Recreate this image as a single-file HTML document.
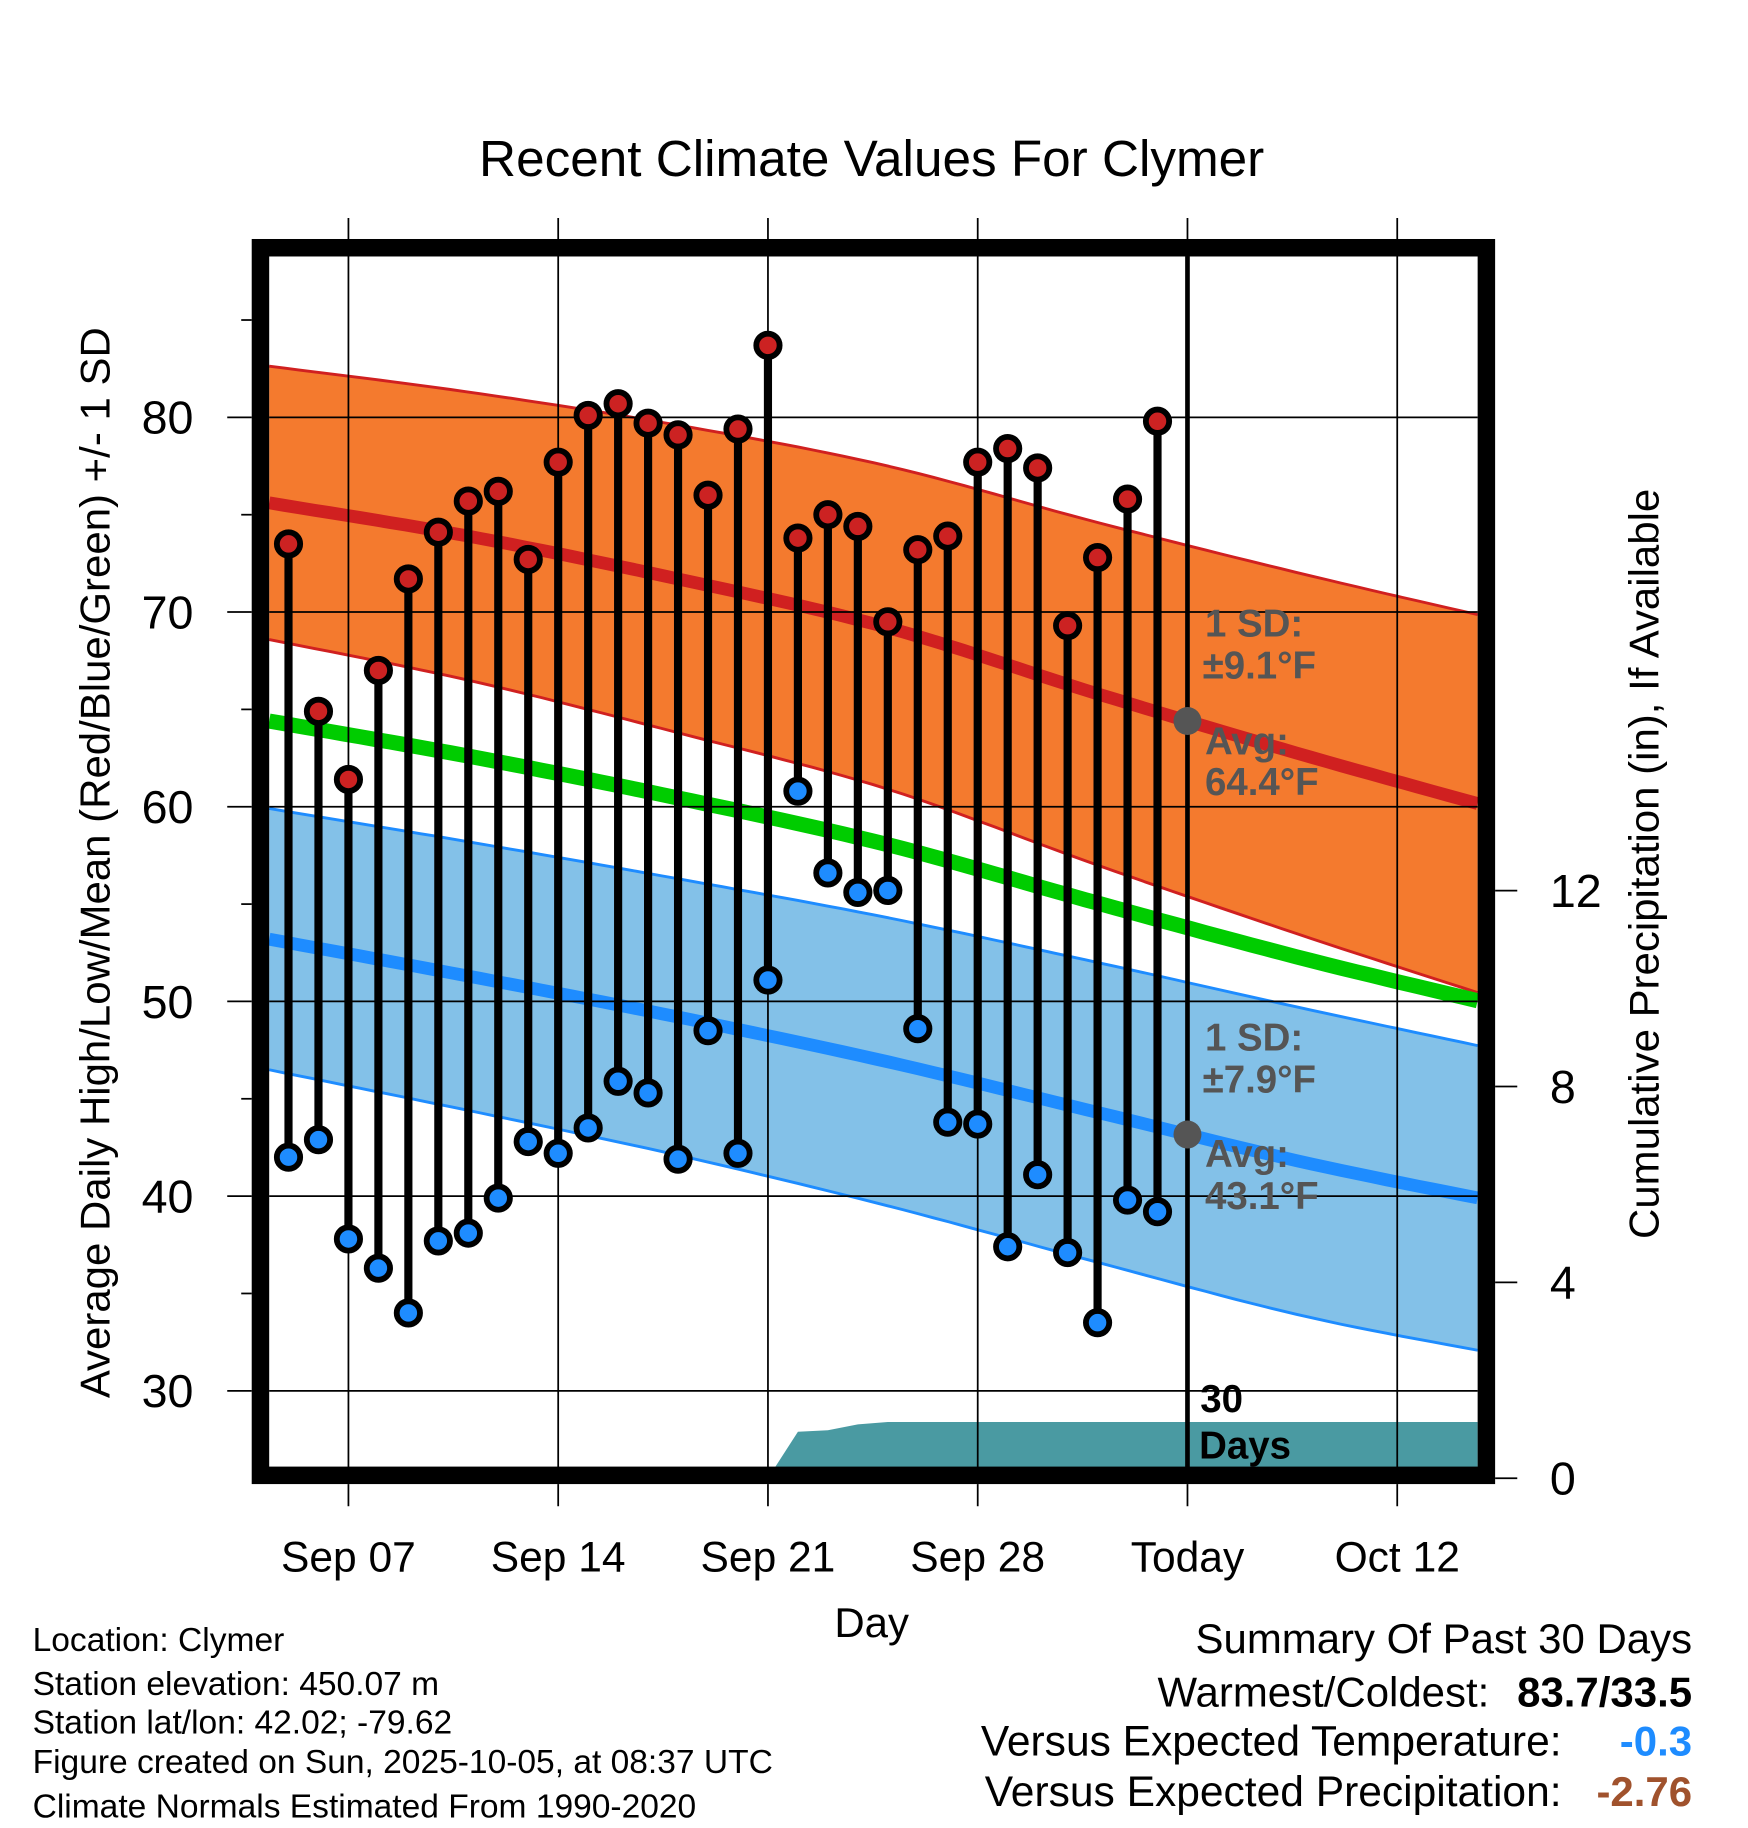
<!DOCTYPE html>
<html><head><meta charset="utf-8"><style>
html,body{margin:0;padding:0;background:#fff}
svg{display:block;font-family:"Liberation Sans",Arial,sans-serif}
</style></head><body>
<svg id="chart" width="1748" height="1828" viewBox="0 0 1500 1568" preserveAspectRatio="none" xmlns="http://www.w3.org/2000/svg">
<g id="layer"></g>
</svg>
<script>
const highs=[73.5,64.9,61.4,67.0,71.7,74.1,75.7,76.2,72.7,77.7,80.1,80.7,79.7,79.1,76.0,79.4,83.7,73.8,75.0,74.4,69.5,73.2,73.9,77.7,78.4,77.4,69.3,72.8,75.8,79.8];
const lows=[42.0,42.9,37.8,36.3,34.0,37.7,38.1,39.9,42.8,42.2,43.5,45.9,45.3,41.9,48.5,42.2,51.1,60.8,56.6,55.6,55.7,48.6,43.8,43.7,37.4,41.1,37.1,33.5,39.8,39.2];
const normDays=[-3,4,11,18,25,32,39];
const normHigh=[75.7,73.9,71.7,69.2,65.8,62.6,59.6];
const sdHigh=[7.0,7.4,7.9,8.3,8.8,9.3,9.8];
const normLow=[53.3,51.3,49.2,46.9,44.3,41.7,39.5];
const sdLow=[6.7,6.9,7.1,7.4,7.7,7.9,7.8];
const precipDays=[14,15,16,17,18,19,38];
const precipVals=[0,0.95,0.98,1.1,1.15,1.15,1.15];
const yTicks=[30,40,50,60,70,80];
const pTicks=[0,4,8,12];
const xTickDays=[0,7,14,21,28,35];
const xTickLabels=["Sep 07","Sep 14","Sep 21","Sep 28","Today","Oct 12"];

const L=231,R=1268,T=220,B=1260,todayD=28;
const X=d=>299+d*180/7;
const Y=v=>358+(80-v)*16.7;
const P=p=>1268-p*42;
const svg=document.getElementById('layer');
const NS='http://www.w3.org/2000/svg';
function mk(tag,attrs,parent){const e=document.createElementNS(NS,tag);for(const k in attrs)e.setAttribute(k,attrs[k]);(parent||svg).appendChild(e);return e;}
function interp(xs,ys,x){const n=xs.length;let i=0;while(i<n-2&&x>xs[i+1])i++;
const t=(x-xs[i])/(xs[i+1]-xs[i]);const p0=i>0?ys[i-1]:2*ys[i]-ys[i+1];const p1=ys[i],p2=ys[i+1];const p3=i+2<n?ys[i+2]:2*ys[i+1]-ys[i];
const t2=t*t,t3=t2*t;return 0.5*((2*p1)+(-p0+p2)*t+(2*p0-5*p1+4*p2-p3)*t2+(-p0+3*p1-3*p2+p3)*t3);}
const d0=(L-299)*7/180,d1=(R-299)*7/180;
const samples=[];for(let i=0;i<=80;i++)samples.push(d0+(d1-d0)*i/80);
function line(fn){return samples.map(d=>X(d).toFixed(1)+','+Y(fn(d)).toFixed(1));}
function band(fu,fl){return line(fu).concat(line(fl).reverse()).join(' ');}
const mh=d=>interp(normDays,normHigh,d),sh=d=>interp(normDays,sdHigh,d);
const ml=d=>interp(normDays,normLow,d),sl=d=>interp(normDays,sdLow,d);

let e;
e=mk('polygon',{points:band(d=>mh(d)+sh(d),d=>mh(d)-sh(d)),fill:'#f47a2e'});

e=mk('polyline',{points:line(d=>mh(d)+sh(d)).join(' '),fill:'none',stroke:'#d02020','stroke-width':2.5});

e=mk('polyline',{points:line(d=>mh(d)-sh(d)).join(' '),fill:'none',stroke:'#d02020','stroke-width':2.5});

e=mk('polygon',{points:band(d=>ml(d)+sl(d),d=>ml(d)-sl(d)),fill:'#83c1e8'});

e=mk('polyline',{points:line(d=>ml(d)+sl(d)).join(' '),fill:'none',stroke:'#1e8cff','stroke-width':2.5});

e=mk('polyline',{points:line(d=>ml(d)-sl(d)).join(' '),fill:'none',stroke:'#1e8cff','stroke-width':2.5});

e=mk('polyline',{points:line(d=>(mh(d)+ml(d))/2).join(' '),fill:'none',stroke:'#00cc00','stroke-width':13});

e=mk('polyline',{points:line(mh).join(' '),fill:'none',stroke:'#d02020','stroke-width':11});

e=mk('polyline',{points:line(ml).join(' '),fill:'none',stroke:'#1e8cff','stroke-width':11});


const pp=[X(precipDays[0])+','+P(0)];
precipDays.forEach((d,i)=>pp.push(Math.min(X(d),R)+','+P(precipVals[i])));
pp.push(R+','+P(0));
e=mk('polygon',{points:pp.join(' '),fill:'#4a9aa2'});


yTicks.forEach(v=>{e=mk('line',{x1:L,x2:R,y1:Y(v),y2:Y(v),stroke:'#000','stroke-width':1.5});
});
xTickDays.forEach(d=>{e=mk('line',{x1:X(d),x2:X(d),y1:187,y2:B,stroke:'#000','stroke-width':1.5});

e=mk('line',{x1:X(d),x2:X(d),y1:1273,y2:1292,stroke:'#000','stroke-width':1.5});});

highs.forEach((h,i)=>{const x=X(i-2);
e=mk('line',{x1:x,x2:x,y1:Y(h),y2:Y(lows[i]),stroke:'#000','stroke-width':7});
});
highs.forEach((h,i)=>{const x=X(i-2);
e=mk('circle',{cx:x,cy:Y(h),r:10,fill:'#cc2222',stroke:'#000','stroke-width':5});

e=mk('circle',{cx:x,cy:Y(lows[i]),r:10,fill:'#1e8cff',stroke:'#000','stroke-width':5});
});

e=mk('line',{x1:X(todayD),x2:X(todayD),y1:T,y2:B,stroke:'#000','stroke-width':4});

e=mk('circle',{cx:X(todayD),cy:Y(mh(todayD)),r:12,fill:'#555'});

e=mk('circle',{cx:X(todayD),cy:Y(ml(todayD)),r:12,fill:'#555'});


e=mk('rect',{x:223.5,y:212.5,width:1052,height:1053,fill:'none',stroke:'#000','stroke-width':15});


yTicks.forEach(v=>{mk('line',{x1:195,x2:216,y1:Y(v),y2:Y(v),stroke:'#000','stroke-width':1.5});
e=mk('text',{x:166,y:Y(v)+14,'font-size':40,'text-anchor':'end'});e.textContent=v;
});
for(let v=35;v<=85;v+=10){mk('line',{x1:207,x2:216,y1:Y(v),y2:Y(v),stroke:'#000','stroke-width':1.5});}
pTicks.forEach(p=>{mk('line',{x1:1283,x2:1302,y1:P(p),y2:P(p),stroke:'#000','stroke-width':1.5});
e=mk('text',{x:1330,y:P(p)+14,'font-size':40});e.textContent=p;
});
xTickDays.forEach((d,i)=>{e=mk('text',{x:X(d),y:1348,'font-size':36.5,'text-anchor':'middle'});e.textContent=xTickLabels[i];
});

function txt(s,attrs,name){const t=mk('text',attrs);t.textContent=s;return t;}
txt('Recent Climate Values For Clymer',{x:748,y:151,'font-size':44,'text-anchor':'middle'},'chart-title');
txt('Day',{x:748,y:1404,'font-size':36,'text-anchor':'middle'},'x-axis-title');
txt('Average Daily High/Low/Mean (Red/Blue/Green) +/- 1 SD',{x:0,y:0,'font-size':36,'text-anchor':'middle',transform:'translate(94,740) rotate(-90)'},'y-axis-title');
txt('Cumulative Precipitation (in), If Available',{x:0,y:0,'font-size':36,'text-anchor':'middle',transform:'translate(1423,741) rotate(-90)'},'precip-axis-title');
const gs={'font-size':33,'font-weight':'bold',fill:'#555'};
txt('1 SD:',Object.assign({x:1034,y:546},gs),'high-sd-annotation');
txt('±9.1°F',Object.assign({x:1032,y:582},gs),'high-sd-value');
txt('Avg:',Object.assign({x:1034,y:647},gs),'high-avg-annotation');
txt('64.4°F',Object.assign({x:1034,y:682},gs),'high-avg-value');
txt('1 SD:',Object.assign({x:1034,y:901},gs),'low-sd-annotation');
txt('±7.9°F',Object.assign({x:1032,y:937},gs),'low-sd-value');
txt('Avg:',Object.assign({x:1034,y:1001},gs),'low-avg-annotation');
txt('43.1°F',Object.assign({x:1034,y:1037},gs),'low-avg-value');
txt('30',{x:1030,y:1211,'font-size':33,'font-weight':'bold'},'days-count-label');
txt('Days',{x:1029,y:1251,'font-size':33,'font-weight':'bold'},'days-label');
const foot=['Location: Clymer','Station elevation: 450.07 m','Station lat/lon: 42.02; -79.62','Figure created on Sun, 2025-10-05, at 08:37 UTC','Climate Normals Estimated From 1990-2020'];
const fy=[1416,1454,1487,1521,1559];
foot.forEach((s,i)=>txt(s,{x:28,y:fy[i],'font-size':28.8},'footer-info-line'));
txt('Summary Of Past 30 Days',{x:1452,y:1418,'font-size':36,'text-anchor':'end'},'summary-title');
txt('Warmest/Coldest:',{x:1278,y:1464,'font-size':36,'text-anchor':'end'},'warmest-coldest-label');
txt('83.7/33.5',{x:1452,y:1464,'font-size':36,'font-weight':'bold','text-anchor':'end'},'warmest-coldest-value');
txt('Versus Expected Temperature:',{x:1340,y:1506,'font-size':36.5,'text-anchor':'end'},'temp-anomaly-label');
txt('-0.3',{x:1452,y:1506,'font-size':36,'font-weight':'bold','text-anchor':'end',fill:'#1e8cff'},'temp-anomaly-value');
txt('Versus Expected Precipitation:',{x:1340,y:1549,'font-size':36.5,'text-anchor':'end'},'precip-anomaly-label');
txt('-2.76',{x:1452,y:1549,'font-size':36,'font-weight':'bold','text-anchor':'end',fill:'#a0522d'},'precip-anomaly-value');
</script>
</body></html>
